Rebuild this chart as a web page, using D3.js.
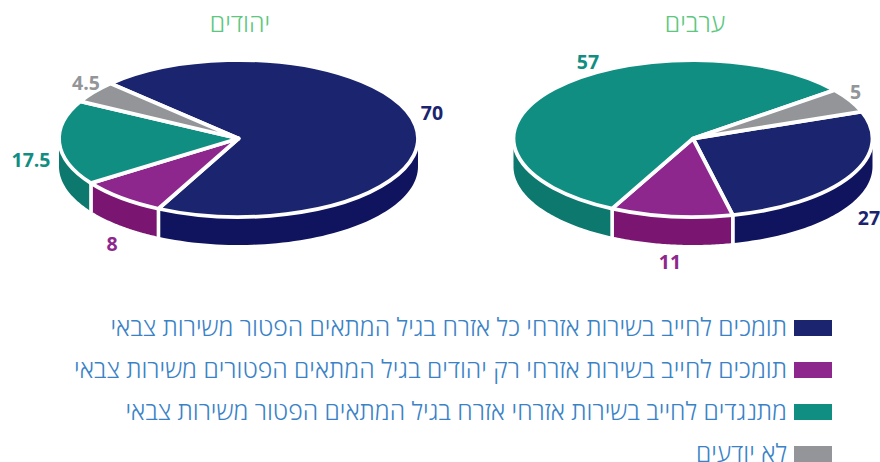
<!DOCTYPE html>
<html lang="he"><head><meta charset="utf-8">
<script src="https://cdn.jsdelivr.net/npm/d3@7/dist/d3.min.js"></script>
<style>html,body{margin:0;padding:0;background:#fff}svg{display:block}text{font-family:"Open Sans","Noto Sans",sans-serif}</style>
</head><body><svg id="c" width="880" height="462"></svg>
<script>
const categories = [
  "תומכים לחייב בשירות אזרחי כל אזרח בגיל המתאים הפטור משירות צבאי",
  "תומכים לחייב בשירות אזרחי רק יהודים בגיל המתאים הפטורים משירות צבאי",
  "מתנגדים לחייב בשירות אזרחי אזרח בגיל המתאים הפטור משירות צבאי",
  "לא יודעים"
];
const groups = ["יהודים", "ערבים"];
const jewsValues = [70, 8, 17.5, 4.5];
const arabsValues = [27, 11, 57, 5];

const topColors = ["#1b246e", "#8e278d", "#118e82", "#939598"];
const sideColors = ["#10145e", "#7a1671", "#0c786e", "#939598"];
const labelColors = ["#1b246e", "#8e278d", "#118e82", "#939598"];
const legendText = "#3a82c6", titleColor = "#5cc77f";

const svg = d3.select("#c");
const color = d3.scaleOrdinal().domain(d3.range(4)).range(topColors);
const side = d3.scaleOrdinal().domain(d3.range(4)).range(sideColors);

const rx = 179.5, ry = 78.5, depth = 28, cy = 138.5;
const rad = d3.scaleLinear().domain([0, 360]).range([0, 2 * Math.PI]);

const charts = [
  {title: groups[0], values: jewsValues, cx: 238.5, start: -45.5, titleX: 240,
   labels: [[432,112],[112,243],[31,159],[86,82]]},
  {title: groups[1], values: arabsValues, cx: 693, start: 70, titleX: 695,
   labels: [[869,217],[670,261],[588,61],[855.5,91]]}
];

function ell(cx, a, dy) {
  return [cx + rx * Math.sin(a), cy - ry * Math.cos(a) + dy];
}

charts.forEach(ch => {
  const pie = d3.pie().sort(null).value(d => d)
    .startAngle(rad(ch.start)).endAngle(rad(ch.start + 360));
  const arcs = pie(ch.values);
  const g = svg.append("g");

  const line = d3.line();
  arcs.forEach(a => {
    const lo = Math.PI / 2, hi = 3 * Math.PI / 2;
    let a0 = Math.max(a.startAngle, lo), a1 = Math.min(a.endAngle, hi);
    if (a1 <= a0) {
      a0 = Math.max(a.startAngle - 2 * Math.PI, lo);
      a1 = Math.min(a.endAngle - 2 * Math.PI, hi);
    }
    if (a1 <= a0) return;
    const steps = d3.range(0, 61).map(i => a0 + (a1 - a0) * i / 60);
    const pts = steps.map(t => ell(ch.cx, t, 0))
      .concat(steps.slice().reverse().map(t => ell(ch.cx, t, depth)));
    g.append("path").attr("d", line(pts) + "Z").attr("fill", side(a.index));
    [a0, a1].forEach(t => {
      if (t === lo || t === hi) return;
      const p = ell(ch.cx, t, 0), q = ell(ch.cx, t, depth + 1);
      g.append("line").attr("x1", p[0]).attr("y1", p[1]).attr("x2", q[0]).attr("y2", q[1])
        .attr("stroke", "#fff").attr("stroke-width", 3.5);
    });
  });

  const arc = d3.arc().innerRadius(0).outerRadius(rx);
  g.append("g").attr("transform", `translate(${ch.cx},${cy}) scale(1,${ry / rx})`)
    .selectAll("path").data(arcs).join("path")
    .attr("d", arc).attr("fill", d => color(d.index))
    .attr("stroke", "#fff").attr("stroke-width", 3.8)
    .attr("stroke-linejoin", "round")
    .attr("vector-effect", "non-scaling-stroke");

  svg.append("g").selectAll("text").data(ch.values).join("text")
    .attr("x", (d, i) => ch.labels[i][0]).attr("y", (d, i) => ch.labels[i][1])
    .attr("text-anchor", "middle").attr("dominant-baseline", "central")
    .attr("font-size", 19.5).attr("font-weight", 700)
    .attr("fill", (d, i) => labelColors[i]).text(d => d);

  svg.append("text").attr("x", ch.titleX).attr("y", 22)
    .attr("text-anchor", "middle").attr("dominant-baseline", "central")
    .attr("font-size", 25).attr("fill", titleColor).attr("font-weight", 300)
    .attr("direction", "rtl").text(ch.title);
});

const ly = d3.scalePoint().domain(d3.range(4)).range([328, 454]);
const leg = svg.append("g").selectAll("g").data(categories).join("g")
  .attr("transform", (d, i) => `translate(0,${ly(i)})`);
leg.append("rect").attr("x", 794).attr("y", -8).attr("width", 38).attr("height", 16)
  .attr("fill", (d, i) => color(i));
leg.append("text").attr("x", 787).attr("y", -2)
  .attr("text-anchor", "start").attr("direction", "rtl").attr("dominant-baseline", "central")
  .attr("font-size", 24.8).attr("font-weight", 300).attr("fill", legendText).text(d => d);
</script></body></html>
